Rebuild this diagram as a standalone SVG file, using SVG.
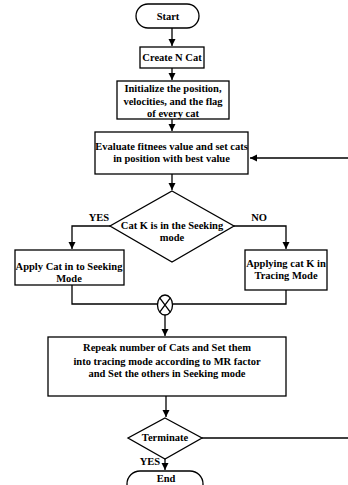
<svg xmlns="http://www.w3.org/2000/svg" width="348" height="485" viewBox="0 0 348 485">
<style>
.s{fill:#fff;stroke:#000;stroke-width:1.3}
.t{font-family:"Liberation Serif","Times New Roman",serif;font-weight:bold;font-size:10.5px;fill:#000;text-anchor:middle}
.c{fill:none;stroke:#000;stroke-width:1.3}
</style>
<defs>
<marker id="a" markerWidth="8" markerHeight="8" refX="7" refY="4" orient="auto" markerUnits="userSpaceOnUse">
<path d="M0,0.5 L7,4 L0,7.5 Z" fill="#000"/>
</marker>
</defs>
<rect width="348" height="485" fill="#fff"/>
<g id="connectors">
<path class="c" d="M172,28 V46" marker-end="url(#a)"/>
<path class="c" d="M172,68 V80" marker-end="url(#a)"/>
<path class="c" d="M172,119 V131" marker-end="url(#a)"/>
<path class="c" d="M348,158 H250" marker-end="url(#a)"/>
<path class="c" d="M172,174 V190" marker-end="url(#a)"/>
<path class="c" d="M110,226 H72 V249" marker-end="url(#a)"/>
<path class="c" d="M234,226 H286 V249" marker-end="url(#a)"/>
<path class="c" d="M72,285 V304 H158"/>
<path class="c" d="M286,290 V304 H173"/>
<path class="c" d="M165,315 V336" marker-end="url(#a)"/>
<path class="c" d="M166,396 V417" marker-end="url(#a)"/>
<path class="c" d="M202,438 H348"/>
<path class="c" d="M165,459 V470" marker-end="url(#a)"/>
</g>
<g id="start">
<rect class="s" x="136" y="4" width="63" height="24" rx="12"/>
<text class="t" x="168" y="20">Start</text>
</g>
<g id="create">
<rect class="s" x="140" y="47" width="64" height="21"/>
<text class="t" x="172" y="61">Create N Cat</text>
</g>
<g id="init">
<rect class="s" x="117" y="81" width="112" height="38"/>
<text class="t" x="173" y="92">Initialize the position,</text>
<text class="t" x="173" y="105">velocities, and the flag</text>
<text class="t" x="173" y="117">of every cat</text>
</g>
<g id="evaluate">
<rect class="s" x="95" y="132" width="153" height="42"/>
<text class="t" x="171.5" y="150">Evaluate fitnees value and set cats</text>
<text class="t" x="171.5" y="162">in position with best value</text>
</g>
<g id="decision">
<polygon class="s" points="172,191 234,226 172,262 110,226"/>
<text class="t" x="172" y="229">Cat K is in the Seeking</text>
<text class="t" x="172" y="241">mode</text>
<text class="t" x="99" y="221">YES</text>
<text class="t" x="259" y="221">NO</text>
</g>
<g id="seeking">
<rect class="s" x="15" y="250" width="109" height="35"/>
<text class="t" x="69" y="270">Apply Cat in to Seeking</text>
<text class="t" x="69" y="282">Mode</text>
</g>
<g id="tracing">
<rect class="s" x="245" y="250" width="82" height="40"/>
<text class="t" x="286" y="267">Applying cat K in</text>
<text class="t" x="286" y="279">Tracing Mode</text>
</g>
<g id="merge">
<ellipse class="s" cx="165" cy="305" rx="7.5" ry="10"/>
<path class="c" d="M159.7,297.9 L170.3,312.1 M170.3,297.9 L159.7,312.1"/>
</g>
<g id="repeat">
<rect class="s" x="48" y="337" width="238" height="59"/>
<text class="t" x="167" y="351">Repeak number of Cats and Set them</text>
<text class="t" x="167" y="365">into tracing mode according to MR factor</text>
<text class="t" x="167" y="377">and Set the others in Seeking mode</text>
</g>
<g id="terminate">
<polygon class="s" points="165,418 202,438 165,459 128,438"/>
<text class="t" x="165" y="441">Terminate</text>
<text class="t" x="150" y="465">YES</text>
</g>
<g id="end">
<rect class="s" x="127" y="471" width="76" height="26" rx="13"/>
<text class="t" x="166" y="482">End</text>
</g>
</svg>
